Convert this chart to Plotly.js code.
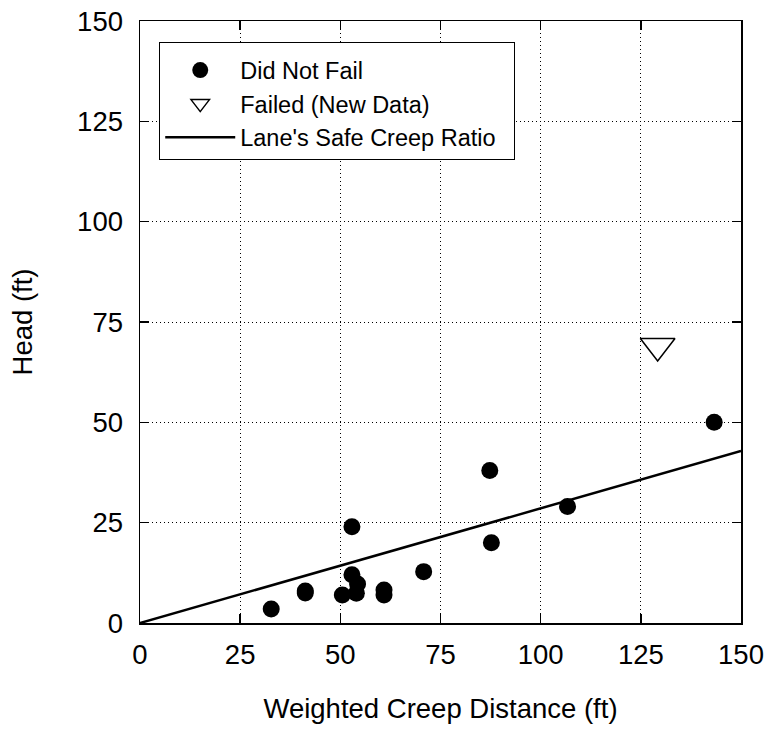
<!DOCTYPE html>
<html>
<head>
<meta charset="utf-8">
<script src="https://cdn.plot.ly/plotly-3.0.1.min.js"></script>
<style>html,body{margin:0;padding:0;background:#fff;}#chart{width:769px;height:732px;}</style>
</head>
<body>
<div id="chart"></div>
<script>
// Did Not Fail
const didNotFailX = [32.75, 41.25, 41.25, 50.5, 52.9, 52.9, 54.3, 54, 60.9, 60.9, 70.8, 87.3, 87.7, 106.7, 143.3];
const didNotFailY = [3.5, 8, 7.5, 7, 24, 12, 9.7, 7.4, 8.2, 7, 12.8, 38, 20, 29, 50];
// Failed (New Data)
const failedX = [129.2];
const failedY = [69];
// Lane's Safe Creep Ratio line
const laneX = [0, 150];
const laneY = [0, 42.86];
const xTicks = [0, 25, 50, 75, 100, 125, 150];
const yTicks = [0, 25, 50, 75, 100, 125, 150];

const FONT = 'Liberation Sans, Arial, Helvetica, sans-serif';
const PAD = '\u00a0\u00a0';

const traces = [
  {
    x: didNotFailX, y: didNotFailY, type: 'scatter', mode: 'markers',
    name: 'Did Not Fail' + PAD,
    marker: {symbol: 'circle', size: 17, color: '#000'}
  },
  {
    x: failedX, y: failedY, type: 'scatter', mode: 'markers',
    name: 'Failed (New Data)' + PAD,
    marker: {symbol: 'triangle-down-open', size: 30, color: '#000', line: {width: 1.5, color: '#000'}}
  },
  {
    x: laneX, y: laneY, type: 'scatter', mode: 'lines',
    name: "Lane's Safe Creep Ratio" + PAD,
    line: {color: '#000', width: 2.5}
  }
];

const axisCommon = {
  showline: true, linecolor: '#000', linewidth: 1.5, mirror: 'ticks',
  ticks: 'inside', ticklen: 9, tickwidth: 1.5, tickcolor: '#000',
  showgrid: true, gridcolor: '#000', griddash: '1px,3px', gridwidth: 1,
  zeroline: false,
  tickfont: {family: FONT, size: 27.5, color: '#000'},
  tickmode: 'array'
};

const layout = {
  width: 769, height: 732,
  margin: {l: 140, r: 28, t: 21, b: 109},
  paper_bgcolor: '#fff', plot_bgcolor: '#fff',
  font: {family: FONT, color: '#000'},
  xaxis: Object.assign({}, axisCommon, {
    range: [0, 150], tickvals: xTicks, ticktext: xTicks.map(String),
    ticklabelstandoff: 6,
    title: {text: 'Weighted Creep Distance (ft)', font: {family: FONT, size: 27.5, color: '#000'}, standoff: 30}
  }),
  yaxis: Object.assign({}, axisCommon, {
    range: [0, 150], tickvals: yTicks, ticktext: yTicks.map(String),
    ticklabelstandoff: 10,
    title: {text: 'Head (ft)', font: {family: FONT, size: 27.5, color: '#000'}, standoff: 36}
  }),
  showlegend: true,
  legend: {
    x: 0.032, y: 0.965, xanchor: 'left', yanchor: 'top',
    bgcolor: '#fff', bordercolor: '#000', borderwidth: 1,
    font: {family: FONT, size: 23.5, color: '#000'},
    itemwidth: 70,
    tracegroupgap: 0,
    title: {text: '\u00a0', font: {family: FONT, size: 4}}
  }
};

Plotly.newPlot('chart', traces, layout, {displayModeBar: false, staticPlot: true});
</script>
</body>
</html>
